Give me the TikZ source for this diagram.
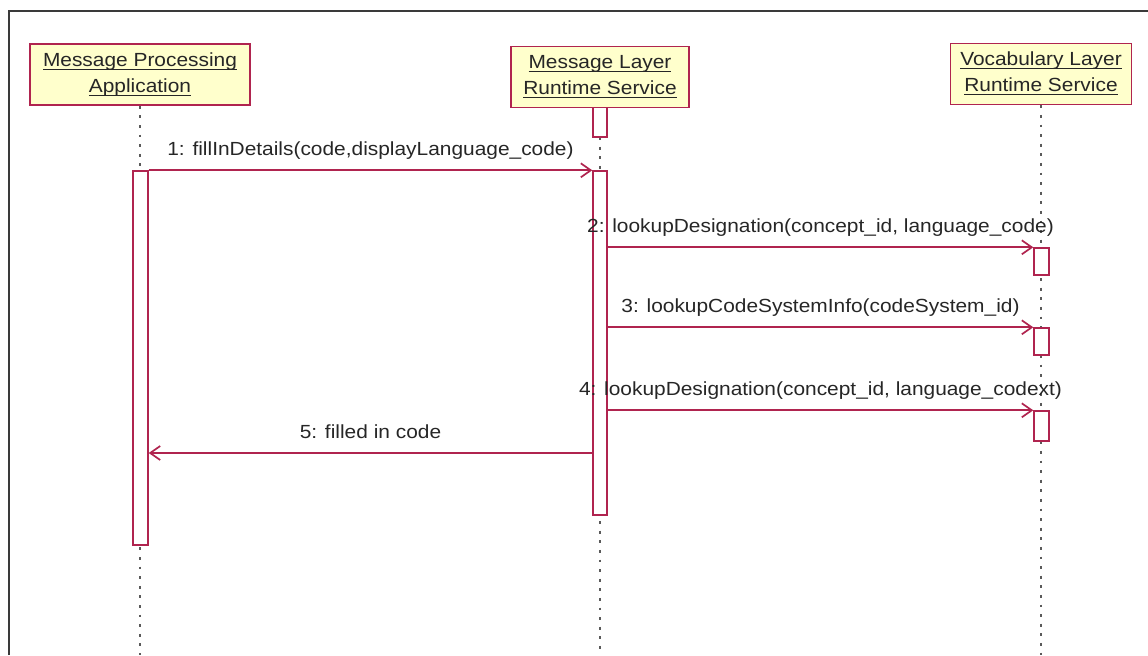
\documentclass[tikz,border=0pt]{standalone}
\usepackage{amsmath}
\usepackage{fontspec}
\setmainfont{Liberation Sans}[FakeStretch=1.1]
\usepackage{xcolor}
\usepackage{tikz}
\usetikzlibrary{arrows.meta,positioning,fit}
\definecolor{umlred}{HTML}{B0244F}
\definecolor{objfill}{HTML}{FFFFCC}
\definecolor{lifegray}{HTML}{5A5A5A}
\definecolor{frameink}{HTML}{3A3A3A}
\newcommand{\objname}[1]{\underline{\smash[b]{#1}}}

\begin{document}
\begin{tikzpicture}[x=0.5pt, y=-0.5pt,
  obj/.style={draw=umlred, fill=objfill, line width=0.8pt, align=center,
              font=\fontsize{9.5}{13}\selectfont, text=black!85, inner sep=2pt,
              minimum height=30.5pt},
  act/.style={draw=umlred, fill=white, line width=0.7pt, inner sep=0pt},
  life/.style={lifegray, line width=1pt, dash pattern=on 1.4pt off 3.4pt},
  msg/.style={umlred, line width=0.85pt, -{Straight Barb[length=5pt, width=7pt]}},
  lbl/.style={font=\fontsize{9.5}{11}\selectfont, text=black!85, inner sep=1pt,
              text height=7pt, text depth=2pt}]
  \useasboundingbox (0,0) rectangle (1148,655);
  \draw[frameink, line width=1pt] (9,655) -- (9,11) -- (1148,11);

  \node[obj, minimum width=110pt] (app) at (140,74.5) {\objname{Message Processing}\\ \objname{Application}};
  \node[obj, minimum width=89pt] (mlrs) at (600,77) {\objname{Message Layer}\\ \objname{Runtime Service}};
  \node[obj, minimum width=90.5pt] (vlrs) at (1041,74) {\objname{Vocabulary Layer}\\ \objname{Runtime Service}};

  \draw[life] (app.south) -- (app.south |- 0,655);
  \draw[life] (mlrs.south) -- (mlrs.south |- 0,655);
  \draw[life] (vlrs.south) -- (vlrs.south |- 0,655);

  \node[act, fit={(593,107.5) (607,137)}] (mlTop) {};
  \node[act, fit={(133,171) (148,545)}] (actApp) {};
  \node[act, fit={(593,171) (607,515)}] (actMl) {};
  \node[act, fit={(1034,248) (1049,275)}] (actV1) {};
  \node[act, fit={(1034,328) (1049,355)}] (actV2) {};
  \node[act, fit={(1034,411) (1049,441)}] (actV3) {};
  \coordinate (ret) at (600,453);

  \draw[msg] (actApp.north east) -- node[lbl, above=4pt] {1: fillInDetails(code,displayLanguage\_code)} (actMl.north west);
  \draw[msg] (actMl.east |- actV1.north) -- node[lbl, above=4pt] {2: lookupDesignation(concept\_id, language\_code)} (actV1.north west);
  \draw[msg] (actMl.east |- actV2.north) -- node[lbl, above=4pt] {3: lookupCodeSystemInfo(codeSystem\_id)} (actV2.north west);
  \draw[msg] (actMl.east |- actV3.north) -- node[lbl, above=4pt] {4: lookupDesignation(concept\_id, language\_codext)} (actV3.north west);
  \draw[msg] (actMl.west |- ret) -- node[lbl, above=4pt] {5: filled in code} (actApp.east |- ret);
\end{tikzpicture}
\end{document}
